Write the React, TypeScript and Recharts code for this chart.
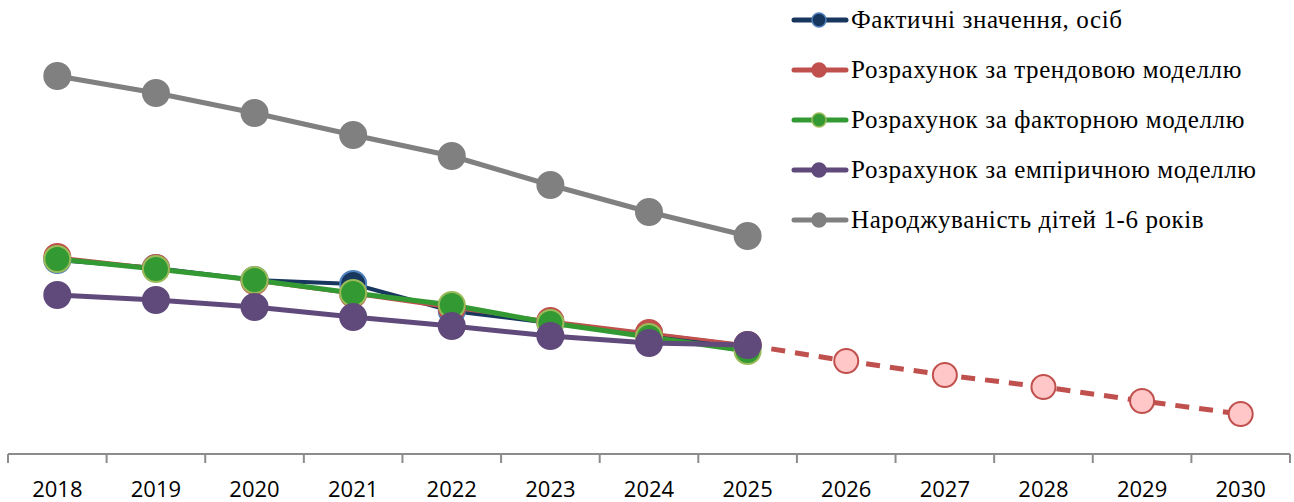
import React from "react";
import { LineChart, Line, XAxis, YAxis } from "recharts";

const years = ["2018", "2019", "2020", "2021", "2022", "2023", "2024", "2025", "2026", "2027", "2028", "2029", "2030"];
const actual = [194, 186, 174, 170, 143, 131, 120, 108];
const trend = [197, 186, 173, 160, 146, 133, 121, 109];
const forecast = [109, 93, 79, 67, 53, 40]; // 2025..2030
const factor = [195, 185, 174, 161, 149, 131, 117, 103];
const empirical = [159, 154, 147, 137, 128, 118, 111, 109];
const births = [378, 361, 341, 319, 298, 269, 242, 218];

const series = [
  { key: "actual", name: "Фактичні значення, осіб", line: "#17375E", fill: "#17375E", ring: "#4F81BD", width: 4 },
  { key: "trend", name: "Розрахунок за трендовою моделлю", line: "#C0504D", fill: "#C0504D", ring: "#C0504D", width: 3 },
  { key: "factor", name: "Розрахунок за факторною моделлю", line: "#339933", fill: "#339933", ring: "#9BBB59", width: 5 },
  { key: "empirical", name: "Розрахунок за емпіричною моделлю", line: "#604A7B", fill: "#604A7B", ring: "#604A7B", width: 5 },
  { key: "births", name: "Народжуваність дітей 1-6 років", line: "#808080", fill: "#808080", ring: "#808080", width: 5 },
];

const data = years.map((year, i) => ({
  year,
  actual: actual[i] ?? null,
  trend: trend[i] ?? null,
  forecast: i >= 7 ? forecast[i - 7] : null,
  factor: factor[i] ?? null,
  empirical: empirical[i] ?? null,
  births: births[i] ?? null,
}));

const W = 1294;
const H = 502;
const LEFT = 8;
const RIGHT = 4;
const AXIS_Y = 454;
const HALF = (W - LEFT - RIGHT) / years.length / 2;
const SERIF = "'Times New Roman', 'Liberation Serif', 'DejaVu Serif', serif";

const YearTick = (props: any) => {
  const { x, payload, index } = props;
  return (
    <g>
      <line x1={x - HALF} y1={AXIS_Y} x2={x - HALF} y2={AXIS_Y + 9} stroke="#8C8C8C" strokeWidth={2} />
      {index === years.length - 1 && (
        <line x1={x + HALF} y1={AXIS_Y} x2={x + HALF} y2={AXIS_Y + 9} stroke="#8C8C8C" strokeWidth={2} />
      )}
      <text x={x} y={497} textAnchor="middle" fontFamily="'Open Sans'" fontSize={22} fill="#000">
        {payload.value}
      </text>
    </g>
  );
};

export default function App() {
  return (
    <div style={{ position: "absolute", left: 0, top: 0, width: W, height: H, background: "#fff" }}>
      <LineChart width={W} height={H} data={data} margin={{ top: 0, right: RIGHT, bottom: 0, left: LEFT }}>
        <XAxis
          dataKey="year"
          height={H - AXIS_Y}
          interval={0}
          padding={{ left: HALF, right: HALF }}
          tickLine={false}
          axisLine={{ stroke: "#8C8C8C", strokeWidth: 2 }}
          tick={<YearTick />}
        />
        <YAxis hide domain={[0, AXIS_Y]} />
        <Line
          dataKey="forecast"
          stroke="#C0504D"
          strokeWidth={5}
          strokeDasharray="14 10"
          dot={{ r: 12, fill: "#FFC7C7", stroke: "#C0504D", strokeWidth: 2, strokeDasharray: "0" }}
          isAnimationActive={false}
        />
        {series.map((s) => (
          <Line
            key={s.key}
            dataKey={s.key}
            name={s.name}
            stroke={s.line}
            strokeWidth={s.width}
            dot={{ r: 13, fill: s.fill, stroke: s.ring, strokeWidth: 2 }}
            isAnimationActive={false}
          />
        ))}
        <g>
          {series.map((s, i) => (
            <g key={s.key} transform={`translate(790, ${20 + i * 50})`}>
              <line x1={4} y1={0} x2={56} y2={0} stroke={s.line} strokeWidth={5} strokeLinecap="round" />
              <circle cx={29} cy={0} r={7} fill={s.fill} stroke={s.ring} strokeWidth={1.5} />
              <text x={61} y={8} fontFamily={SERIF} fontSize={25} letterSpacing={0.6} fill="#000">
                {s.name}
              </text>
            </g>
          ))}
        </g>
      </LineChart>
    </div>
  );
}
